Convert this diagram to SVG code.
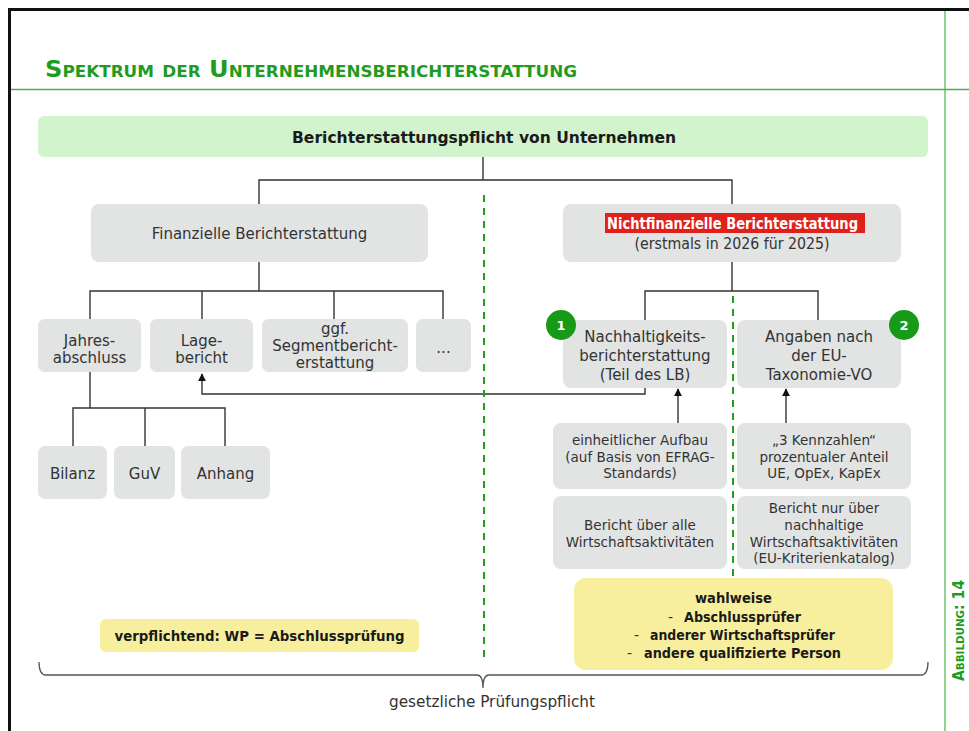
<svg xmlns="http://www.w3.org/2000/svg" width="969" height="731" viewBox="0 0 969 731">
<style>
text{font-family:"DejaVu Sans","Liberation Sans",sans-serif;fill:#333;}
.t{font-size:15px;text-anchor:middle;}
.s{font-size:13.5px;text-anchor:middle;}
.b{font-weight:bold;fill:#1a1a1a;}
.box{fill:#e2e3e3;}
.yel{fill:#f8ef9e;}
.ln{fill:none;stroke:#333;stroke-width:1.4;}
.dash{fill:none;stroke:#1f9e1f;stroke-width:2;stroke-dasharray:7,6;}
.num{fill:#fff;font-weight:bold;font-size:13px;text-anchor:middle;}
</style>
<defs>
<marker id="ah" viewBox="0 0 10 10" refX="9" refY="5" markerWidth="8" markerHeight="8" markerUnits="userSpaceOnUse" orient="auto">
<path d="M0,0 L10,5 L0,10 z" fill="#111"/>
</marker>
</defs>
<rect width="969" height="731" fill="#fff"/>
<g id="frame">
<line x1="8" y1="9.5" x2="969" y2="9.5" stroke="#111" stroke-width="3"/>
<line x1="9.5" y1="8" x2="9.5" y2="731" stroke="#111" stroke-width="3"/>
<line x1="945" y1="11" x2="945" y2="731" stroke="#6cc46c" stroke-width="1.5"/>
<line x1="11" y1="89.5" x2="969" y2="89.5" stroke="#4fae4f" stroke-width="1.5"/>
<text x="45" y="77" font-family="Liberation Sans, sans-serif" font-size="23" font-weight="bold" style="font-variant:small-caps;fill:#1f9c1f" textLength="532" lengthAdjust="spacingAndGlyphs">Spektrum der Unternehmensberichterstattung</text>
<text transform="translate(964,681) rotate(-90)" font-family="Liberation Sans, sans-serif" font-size="15" font-weight="bold" style="font-variant:small-caps;fill:#1f9c1f" textLength="101" lengthAdjust="spacingAndGlyphs">Abbildung: 14</text>
</g>
<g id="connectors">
<path class="ln" d="M483,157 V180 M259,205 V180 H732 V205"/>
<path class="ln" d="M259,262 V291 M90,320 V291 H443 V320 M202,291 V320 M334,291 V320"/>
<path class="ln" d="M90,372 V408 M73,447 V408 H225 V447 M145,408 V447"/>
<path class="ln" d="M732,262 V291 M645,320 V291 H818 V320"/>
<path class="ln" d="M645,388 V394 H202 V374" marker-end="url(#ah)"/>
<path class="ln" d="M678,423 V389" marker-end="url(#ah)"/>
<path class="ln" d="M786,423 V389" marker-end="url(#ah)"/>
<line class="dash" x1="484" y1="195" x2="484" y2="660"/>
<line class="dash" x1="733" y1="296" x2="733" y2="576"/>
<path fill="none" stroke="#555" stroke-width="1.3" d="M39,662 Q39,675 46,675 L477,675 Q483,675 483,688 Q483,675 489,675 L921,675 Q928,675 928,662"/>
</g>
<g id="n-top">
<rect x="38" y="116" width="890" height="41" rx="6" fill="#d1f4cc"/>
<text class="t b" x="484" y="143" font-size="16" textLength="384" lengthAdjust="spacingAndGlyphs">Berichterstattungspflicht von Unternehmen</text>
</g>
<g id="n-fin">
<rect class="box" x="91" y="204" width="337" height="58" rx="8"/>
<text class="t" x="259.5" y="239">Finanzielle Berichterstattung</text>
</g>
<g id="n-nonfin">
<rect class="box" x="563" y="204" width="338" height="58" rx="8"/>
<rect x="605" y="213" width="260" height="20" fill="#e0201b"/>
<text x="607" y="228.5" font-size="15" font-weight="bold" style="fill:#fff" textLength="251" lengthAdjust="spacingAndGlyphs">Nichtfinanzielle Berichterstattung</text>
<text class="t" x="732" y="249" textLength="195" lengthAdjust="spacingAndGlyphs">(erstmals in 2026 für 2025)</text>
</g>
<g id="n-jahres">
<rect class="box" x="38" y="319" width="103" height="53" rx="7"/>
<text class="t" x="89.5" y="346">Jahres-</text>
<text class="t" x="89.5" y="363">abschluss</text>
</g>
<g id="n-lage">
<rect class="box" x="150" y="319" width="103" height="53" rx="7"/>
<text class="t" x="201.5" y="346">Lage-</text>
<text class="t" x="201.5" y="363">bericht</text>
</g>
<g id="n-segment">
<rect class="box" x="262" y="319" width="146" height="53" rx="7"/>
<text class="t" x="335" y="334">ggf.</text>
<text class="t" x="335" y="351">Segmentbericht-</text>
<text class="t" x="335" y="368">erstattung</text>
</g>
<g id="n-etc">
<rect class="box" x="416" y="319" width="55" height="53" rx="7"/>
<text class="t" x="443.5" y="353">...</text>
</g>
<g id="n-bilanz">
<rect class="box" x="38" y="446" width="69" height="53" rx="7"/>
<text class="t" x="72.5" y="479">Bilanz</text>
</g>
<g id="n-guv">
<rect class="box" x="114" y="446" width="61" height="53" rx="7"/>
<text class="t" x="144.5" y="479">GuV</text>
</g>
<g id="n-anhang">
<rect class="box" x="181" y="446" width="89" height="53" rx="7"/>
<text class="t" x="225.5" y="479">Anhang</text>
</g>
<g id="n-nachhaltig">
<rect class="box" x="563" y="320" width="164" height="68" rx="8"/>
<text class="t" x="645" y="342">Nachhaltigkeits-</text>
<text class="t" x="645" y="361">berichterstattung</text>
<text class="t" x="645" y="380">(Teil des LB)</text>
<circle cx="561" cy="325" r="15" fill="#179a17"/>
<text class="num" x="561" y="330">1</text>
</g>
<g id="n-taxo">
<rect class="box" x="737" y="320" width="164" height="68" rx="8"/>
<text class="t" x="819" y="342">Angaben nach</text>
<text class="t" x="819" y="361">der EU-</text>
<text class="t" x="819" y="380">Taxonomie-VO</text>
<circle cx="904" cy="325" r="15" fill="#179a17"/>
<text class="num" x="904" y="330">2</text>
</g>
<g id="n-aufbau">
<rect class="box" x="553" y="423" width="174" height="66" rx="8"/>
<text class="s" x="640" y="445">einheitlicher Aufbau</text>
<text class="s" x="640" y="462">(auf Basis von EFRAG-</text>
<text class="s" x="640" y="478">Standards)</text>
</g>
<g id="n-kennzahlen">
<rect class="box" x="737" y="423" width="174" height="66" rx="8"/>
<text class="s" x="824" y="445">„3 Kennzahlen“</text>
<text class="s" x="824" y="462">prozentualer Anteil</text>
<text class="s" x="824" y="478">UE, OpEx, KapEx</text>
</g>
<g id="n-alle">
<rect class="box" x="553" y="496" width="174" height="73" rx="8"/>
<text class="s" x="640" y="530">Bericht über alle</text>
<text class="s" x="640" y="547">Wirtschaftsaktivitäten</text>
</g>
<g id="n-nur">
<rect class="box" x="737" y="496" width="174" height="73" rx="8"/>
<text class="s" x="824" y="513">Bericht nur über</text>
<text class="s" x="824" y="530">nachhaltige</text>
<text class="s" x="824" y="547">Wirtschaftsaktivitäten</text>
<text class="s" x="824" y="563">(EU-Kriterienkatalog)</text>
</g>
<g id="n-wahlweise">
<rect class="yel" x="574" y="578" width="319" height="92" rx="12"/>
<text class="b" x="733.5" y="603" font-size="14" text-anchor="middle" textLength="77" lengthAdjust="spacingAndGlyphs">wahlweise</text>
<text x="668" y="622" font-size="14">-</text>
<text class="b" x="684" y="622" font-size="14" textLength="117" lengthAdjust="spacingAndGlyphs">Abschlussprüfer</text>
<text x="634" y="640" font-size="14">-</text>
<text class="b" x="650" y="640" font-size="14" textLength="185" lengthAdjust="spacingAndGlyphs">anderer Wirtschaftsprüfer</text>
<text x="627" y="658" font-size="14">-</text>
<text class="b" x="644" y="658" font-size="14" textLength="197" lengthAdjust="spacingAndGlyphs">andere qualifizierte Person</text>
</g>
<g id="n-verpflichtend">
<rect class="yel" x="100" y="619" width="319" height="33" rx="6"/>
<text class="b" x="259.5" y="641" font-size="14" text-anchor="middle" textLength="290" lengthAdjust="spacingAndGlyphs">verpflichtend: WP = Abschlussprüfung</text>
</g>
<g id="n-pflicht">
<text class="t" x="492" y="707" textLength="206" lengthAdjust="spacingAndGlyphs">gesetzliche Prüfungspflicht</text>
</g>
</svg>
